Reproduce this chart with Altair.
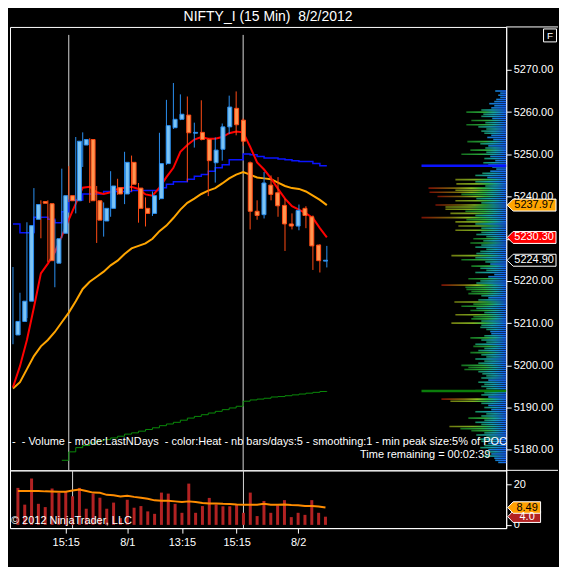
import altair as alt
import pandas as pd

NB = "\u00a0"
TITLE = "NIFTY_I (15 Min)" + NB + " 8/2/2012"
NOTE_1 = "-" + NB + " - Volume - mode:LastNDays" + NB + " - color:Heat - nb bars/days:5 - smoothing:1 - min peak size:5% of POC"
NOTE_2 = "Time remaining = 00:02:39"
COPYRIGHT = "\u00a9 2012 NinjaTrader, LLC"

# ---------------- data ----------------
bar_idx = list(range(46))
opens = [5207.2, 5210.4, 5215.2, 5234.6, 5238.8, 5238.3, 5224.2, 5231.3, 5240.2, 5239.0,
         5252.2, 5253.5, 5239.0, 5234.2, 5237.2, 5242.1, 5240.6, 5248.1, 5242.0, 5237.2,
         5236.0, 5239.5, 5247.8, 5256.3, 5258.3, 5259.3, 5255.0, 5255.2, 5253.5, 5248.0,
         5251.2, 5256.5, 5260.9, 5258.1, 5248.0, 5236.5, 5235.7, 5242.7, 5240.9, 5237.9,
         5233.5, 5233.0, 5237.2, 5235.2, 5228.5, 5224.7]
highs = [5223.3, 5217.2, 5233.9, 5242.0, 5239.1, 5239.1, 5234.5, 5246.6, 5247.2, 5254.1,
         5255.2, 5253.8, 5242.5, 5238.6, 5246.0, 5244.2, 5250.6, 5249.7, 5243.2, 5239.8,
         5241.2, 5255.1, 5262.9, 5266.9, 5264.2, 5263.7, 5257.5, 5262.8, 5253.8, 5254.0,
         5257.3, 5263.9, 5264.9, 5258.5, 5248.3, 5239.1, 5245.8, 5245.0, 5244.6, 5239.5,
         5236.0, 5238.1, 5237.7, 5235.5, 5228.7, 5228.3]
lows = [5205.0, 5207.2, 5211.2, 5231.4, 5230.1, 5224.5, 5218.5, 5230.1, 5238.7, 5236.0,
        5247.0, 5238.5, 5229.0, 5230.5, 5235.2, 5240.4, 5238.2, 5241.2, 5233.8, 5232.9,
        5235.4, 5239.2, 5247.5, 5256.0, 5258.1, 5243.5, 5251.6, 5253.3, 5240.1, 5243.3,
        5248.5, 5254.8, 5254.5, 5252.0, 5232.2, 5234.5, 5234.8, 5239.1, 5235.2, 5227.1,
        5232.2, 5232.0, 5232.5, 5222.6, 5222.0, 5223.2]
closes = [5210.4, 5215.2, 5233.1, 5238.1, 5238.4, 5224.8, 5230.0, 5240.2, 5239.0, 5253.1,
          5253.5, 5239.0, 5234.4, 5237.2, 5242.5, 5240.6, 5248.1, 5242.9, 5237.2, 5236.0,
          5240.2, 5247.8, 5256.8, 5258.3, 5259.5, 5255.1, 5255.2, 5253.5, 5248.5, 5251.0,
          5256.5, 5261.2, 5257.0, 5253.1, 5236.5, 5235.5, 5243.2, 5240.5, 5237.8, 5233.5,
          5233.0, 5236.7, 5235.5, 5228.3, 5224.8, 5224.9]
ema_fast = [5194.8, 5199.8, 5206.0, 5213.7, 5221.8, 5224.1, 5226.8, 5230.6, 5234.5, 5238.3,
            5242.1, 5242.3, 5241.0, 5240.6, 5241.0, 5241.8, 5242.1, 5242.3, 5241.8, 5240.5,
            5240.2, 5242.1, 5244.6, 5246.8, 5250.6, 5252.2, 5253.5, 5254.1, 5253.7, 5253.7,
            5254.1, 5255.0, 5255.4, 5255.2, 5251.8, 5248.1, 5246.4, 5244.3, 5241.8, 5239.5,
            5237.7, 5236.9, 5236.0, 5234.9, 5232.5, 5230.30]
ema_slow = [5194.5, 5196.0, 5199.1, 5202.2, 5204.5, 5206.0, 5207.9, 5210.2, 5212.5, 5215.2,
            5218.1, 5219.8, 5221.0, 5222.2, 5223.7, 5224.8, 5226.4, 5227.7, 5228.3, 5228.9,
            5230.0, 5231.8, 5233.1, 5234.9, 5236.9, 5238.5, 5239.5, 5240.6, 5241.4, 5242.0,
            5243.1, 5244.3, 5245.2, 5245.8, 5245.2, 5244.5, 5244.3, 5244.1, 5243.3, 5242.5,
            5242.0, 5241.8, 5241.2, 5240.2, 5239.2, 5237.97]
blue_line = [5233.5, 5231.4, 5231.4, 5235.1, 5235.1, 5234.6, 5233.8, 5236.4, 5239.1, 5239.2,
             5240.6, 5240.6, 5240.6, 5241.2, 5241.2, 5241.2, 5241.2, 5241.4, 5241.4, 5241.4,
             5241.4, 5242.1, 5242.9, 5243.5, 5243.5, 5244.1, 5244.8, 5245.2, 5246.0, 5246.8,
             5247.5, 5248.7, 5248.7, 5250.1, 5249.9, 5249.5, 5249.1, 5249.1, 5248.9, 5248.7,
             5248.5, 5248.3, 5248.3, 5247.8, 5247.3, 5247.3]
green_line = [None, None, None, None, None, None, None,
              5177.5, 5179.5, 5180.5, 5181.0, 5181.6, 5182.1, 5182.4, 5182.8, 5183.2, 5183.7,
              5184.0, 5184.4, 5184.8, 5185.2, 5185.7, 5186.1, 5186.5, 5187.0, 5187.5, 5187.9,
              5188.3, 5188.7, 5189.1, 5189.5, 5189.9, 5190.3, 5191.5, 5191.8, 5192.0, 5192.2,
              5192.5, 5192.6, 5192.8, 5193.0, 5193.2, 5193.4, 5193.6, 5193.8, 5193.9]
volume = [18.1, 9.9, 22.7, 10.3, 8.7, 17.8, 15.6, 16.1, 14.0, 18.1,
          7.9, 15.3, 13.3, 7.9, 10.9, 3.3, 12.3, 8.4, 9.2, 6.6,
          5.4, 15.8, 15.3, 10.3, 5.9, 20.2, 5.9, 9.2, 13.2, 10.0,
          9.1, 9.1, 10.0, 5.9, 15.8, 4.3, 11.7, 5.9, 9.6, 12.1,
          3.8, 5.9, 4.9, 12.1, 5.9, 4.0]
vol_avg = [16.6, 16.6, 16.6, 16.6, 16.4, 16.3, 16.2, 16.2, 16.8, 17.3,
           16.6, 15.8, 15.7, 14.7, 14.5, 13.9, 14.2, 13.7, 13.3, 12.8,
           12.0, 11.8, 11.8, 11.5, 11.2, 11.5, 11.2, 10.7, 10.5, 10.5,
           10.3, 10.2, 10.0, 9.9, 9.9, 9.9, 10.3, 9.9, 9.9, 10.0,
           9.7, 9.6, 9.2, 9.2, 9.0, 8.49]

tick_idx = [7, 16, 24, 32, 41]
tick_text = ["15:15", "8/1", "13:15", "15:15", "8/2"]
session_breaks = [8, 33]
price_ticks = [5180, 5190, 5200, 5210, 5220, 5230, 5240, 5250, 5260, 5270]
vol_ticks = [0, 20]

# volume profile: one row every 0.5 points, from 5265.0 downwards
profile_top = 5265.0
profile_step = 0.5
profile_vol = [11, 6, 8, 6, 10, 12, 17, 12, 15, 25,
               40, 23, 25, 14, 35, 21, 40, 28, 20, 25,
               22, 15, 19, 13, 39, 26, 18, 21, 36, 20,
               45, 16, 22, 11, 23, 18, 14, 10, 16, 24,
               31, 19, 51, 31, 50, 21, 78, 51, 77, 45,
               69, 30, 51, 25, 71, 61, 61, 41, 56, 31,
               85, 40, 51, 31, 48, 25, 51, 25, 30, 20,
               33, 23, 36, 25, 31, 20, 26, 30, 55, 31,
               45, 21, 16, 35, 26, 20, 31, 12, 18, 38,
               26, 30, 65, 41, 40, 35, 38, 25, 18, 28,
               52, 33, 45, 30, 36, 22, 51, 33, 35, 25,
               55, 25, 26, 20, 16, 15, 22, 36, 25, 20,
               31, 33, 22, 28, 36, 25, 20, 31, 22, 28,
               45, 38, 42, 28, 24, 20, 25, 18, 28, 22,
               25, 20, 31, 22, 25, 18, 65, 56, 25, 18,
               22, 15, 31, 20, 25, 38, 22, 31, 25, 57,
               46, 35, 22, 30, 20, 28, 25, 18, 22, 26,
               18, 20, 15, 23, 12, 11, 8]
marker_vol = 85

# ---------------- layout constants ----------------
W = 498
H_PRICE = 445
H_VOL = 58
X_DOMAIN = [-3 / 7, -3 / 7 + W / 7]
Y_PRICE = [5176.3, 5279.0]
Y_VOL = [-1.6, 26.7]
FONT = "Liberation Sans"

UP_FILL, DN_FILL = "#7cc4f4", "#ff9650"
UP_LINE, DN_LINE = "#2a8ff0", "#ff4a14"

df = pd.DataFrame(dict(i=bar_idx, open=opens, high=highs, low=lows, close=closes,
                       fast=ema_fast, slow=ema_slow, blue=blue_line, green=green_line,
                       vol=volume, avg=vol_avg))
df["dir"] = ["up" if c >= o else "down" for o, c in zip(opens, closes)]

xs = alt.Scale(domain=X_DOMAIN, nice=False, zero=False)
ys = alt.Scale(domain=Y_PRICE, nice=False, zero=False)
vs = alt.Scale(domain=Y_VOL, nice=False, zero=False)

axis_style = dict(title=None, grid=False, tickSize=5, labelPadding=2, labelColor="white",
                  tickColor="white", domainColor="white", labelFontSize=11, labelFont=FONT)
price_axis = alt.Axis(orient="right", values=price_ticks, format=".2f", **axis_style)

X = alt.X("i:Q", scale=xs, axis=None)


def PY(field):
    return alt.Y(field, type="quantitative", scale=ys, axis=price_axis)


base = alt.Chart(df)
one = pd.DataFrame({"k": [0]})

sess = alt.Chart(pd.DataFrame({"i": session_breaks})).mark_rule(
    color="#d8d8d8", strokeWidth=1).encode(x=X, y=alt.value(8), y2=alt.value(H_PRICE))

blue_l = base.mark_line(color="#0a14ff", strokeWidth=1.5, interpolate="step-after").encode(x=X, y=PY("blue"))
green_l = base.mark_line(color="#0a8a0a", strokeWidth=1, interpolate="step-after").encode(x=X, y=PY("green"))
slow_l = base.mark_line(color="#ffa500", strokeWidth=2).encode(x=X, y=PY("slow"))
fast_l = base.mark_line(color="#ff0000", strokeWidth=2).encode(x=X, y=PY("fast"))

dir_stroke = alt.Stroke("dir:N", scale=alt.Scale(domain=["up", "down"], range=[UP_LINE, DN_LINE]), legend=None)
wicks = base.mark_rule(strokeWidth=1).encode(x=X, y=PY("low"), y2="high", stroke=dir_stroke)
bodies = base.mark_bar(size=4, strokeWidth=1).encode(
    x=X, y=PY("open"), y2="close",
    fill=alt.Fill("dir:N", scale=alt.Scale(domain=["up", "down"], range=[UP_FILL, DN_FILL]), legend=None),
    stroke=dir_stroke)

# volume profile
prof_df = pd.DataFrame({"p": [profile_top - profile_step * k for k in range(len(profile_vol))],
                        "v": profile_vol})
px = alt.Scale(domain=[0, W], reverse=True, nice=False, zero=False)


def grad(stops):
    return alt.Gradient(gradient="linear", x1=0, x2=1, y1=0, y2=0,
                        stops=[alt.GradientStop(offset=o, color=c) for o, c in stops])


heat = [
    ("datum.v >= 65", [(0, "#7a1005"), (0.35, "#7a6a0c"), (0.55, "#8fbf22"), (0.7, "#2fb83a"), (0.82, "#17a6a0"), (1, "#1560f5")]),
    ("datum.v >= 48 && datum.v < 65", [(0, "#6f7a10"), (0.4, "#7fae20"), (0.62, "#2fb848"), (0.8, "#17a6a8"), (1, "#1560f5")]),
    ("datum.v >= 33 && datum.v < 48", [(0, "#156f1f"), (0.45, "#2aa83a"), (0.7, "#17a6a0"), (1, "#1560f5")]),
    ("datum.v >= 20 && datum.v < 33", [(0, "#168a5a"), (0.45, "#159fb0"), (1, "#1560f5")]),
    ("datum.v < 20", [(0, "#1582c8"), (1, "#1560f5")]),
]
prof_layers = [
    alt.Chart(prof_df).transform_filter(cond).mark_bar(orient="horizontal", size=1.6, color=grad(stops)).encode(
        x=alt.X("v:Q", scale=px, axis=None), x2=alt.datum(0), y=PY("p"))
    for cond, stops in heat
]
markers = alt.Chart(pd.DataFrame({"p": [blue_line[-1], green_line[-1]], "kind": ["blue", "green"],
                                  "v": [marker_vol, marker_vol]})).mark_bar(orient="horizontal", size=2.5).encode(
    x=alt.X("v:Q", scale=px, axis=None), x2=alt.datum(0), y=PY("p"),
    color=alt.Color("kind:N", scale=alt.Scale(domain=["blue", "green"], range=["#0a14ff", "#0b7d0b"]), legend=None))

# price tags on the axis
TAG = "M -1 0 L -0.755 -0.245 L 1 -0.245 L 1 0.245 L -0.755 0.245 Z"
tag_df = pd.DataFrame({"p": [ema_slow[-1], ema_fast[-1], closes[-1]],
                       "kind": ["slow", "fast", "last"],
                       "label": [f"{v:.2f}" for v in (ema_slow[-1], ema_fast[-1], closes[-1])]})
tag_box = alt.Chart(tag_df).mark_point(shape=TAG, size=2401, filled=True, stroke="white", strokeWidth=1, opacity=1).encode(
    x=alt.value(W + 25.5), y=PY("p"),
    fill=alt.Fill("kind:N", scale=alt.Scale(domain=["slow", "fast", "last"], range=["#ffa500", "#ff0000", "#000000"]), legend=None))
tag_txt = alt.Chart(tag_df).mark_text(fontSize=11, font=FONT, align="center", baseline="middle").encode(
    x=alt.value(W + 28), y=PY("p"), text="label:N",
    color=alt.Color("kind:N", scale=alt.Scale(domain=["slow", "fast", "last"], range=["#000000", "#ffffff", "#ffffff"]), legend=None))

title_txt = alt.Chart(one).mark_text(text=TITLE, fontSize=14, font=FONT, color="white", align="center", baseline="middle").encode(
    x=alt.value(259), y=alt.value(-10))
note1 = alt.Chart(one).mark_text(text=NOTE_1, fontSize=11, font=FONT, color="white", align="left", baseline="middle").encode(
    x=alt.value(2), y=alt.value(417))
note2 = alt.Chart(one).mark_text(text=NOTE_2, fontSize=11, font=FONT, color="white", align="right", baseline="middle").encode(
    x=alt.value(482), y=alt.value(430))
f_box = alt.Chart(one).mark_point(shape="square", size=169, filled=False, color="white", strokeWidth=1, opacity=1).encode(
    x=alt.value(W + 44), y=alt.value(8.5))
f_txt = alt.Chart(one).mark_text(text="F", fontSize=10, font=FONT, color="white", align="center", baseline="middle").encode(
    x=alt.value(W + 44), y=alt.value(9))
top_rule = alt.Chart(one).mark_rule(color="white", strokeWidth=1).encode(x=alt.value(W), x2=alt.value(W + 52), y=alt.value(0))
mid_rule = alt.Chart(one).mark_rule(color="white", strokeWidth=1).encode(x=alt.value(W), x2=alt.value(W + 52), y=alt.value(H_PRICE))

price = alt.layer(
    sess, blue_l, green_l, slow_l, fast_l, wicks, bodies, *prof_layers, markers,
    title_txt, note1, note2, tag_box, tag_txt, f_box, f_txt, top_rule, mid_rule
).resolve_scale(x="independent", fill="independent", stroke="independent", color="independent"
).properties(width=W, height=H_PRICE)

# ---------------- volume panel ----------------
label_expr = "''"
for v, t in reversed(list(zip(tick_idx, tick_text))):
    label_expr = f"datum.value == {v} ? '{t}' : {label_expr}"
x_style = dict(axis_style)
x_style["labelPadding"] = 3
x_axis = alt.Axis(orient="bottom", values=tick_idx, labelExpr=label_expr, **x_style)
vol_axis = alt.Axis(orient="right", values=vol_ticks, **axis_style)

XV = alt.X("i:Q", scale=xs, axis=x_axis)
vsess = alt.Chart(pd.DataFrame({"i": session_breaks})).mark_rule(color="#d8d8d8", strokeWidth=1).encode(x=XV)
vbars = base.mark_bar(size=3, color="#b22222").encode(x=XV, y=alt.Y("vol:Q", scale=vs, axis=vol_axis), y2=alt.datum(0))
vavg = base.mark_line(color="#ff8c00", strokeWidth=2).encode(x=XV, y=alt.Y("avg:Q", scale=vs, axis=vol_axis))
copy_txt = alt.Chart(one).mark_text(text=COPYRIGHT, fontSize=11, font=FONT, color="white", align="left", baseline="middle").encode(
    x=alt.value(1), y=alt.value(51))
# invisible filler so that the black background reaches down to the bottom of the window
filler = alt.Chart(one).mark_point(shape="square", size=1, filled=True, color="black", opacity=1).encode(
    x=alt.value(W + 51), y=alt.value(H_VOL + 37))

VTAG = "M -1 0 L -0.667 -0.35 L 1 -0.35 L 1 0.35 L -0.667 0.35 Z"
vtag_df = pd.DataFrame({"v": [volume[-1], vol_avg[-1]], "kind": ["vol", "avg"],
                        "label": [f"{volume[-1]:.1f}", f"{vol_avg[-1]:.2f}"]})
vtag_box = alt.Chart(vtag_df).mark_point(shape=VTAG, size=1089, filled=True, stroke="white", strokeWidth=1, opacity=1).encode(
    x=alt.value(W + 18), y=alt.Y("v:Q", scale=vs, axis=vol_axis),
    fill=alt.Fill("kind:N", scale=alt.Scale(domain=["vol", "avg"], range=["#b22222", "#ffa000"]), legend=None))
vtag_txt = alt.Chart(vtag_df).mark_text(fontSize=11, font=FONT, align="center", baseline="middle").encode(
    x=alt.value(W + 21), y=alt.Y("v:Q", scale=vs, axis=vol_axis), text="label:N",
    color=alt.Color("kind:N", scale=alt.Scale(domain=["vol", "avg"], range=["#ffffff", "#000000"]), legend=None))

vol = alt.layer(vsess, vbars, vavg, copy_txt, filler, vtag_box, vtag_txt).resolve_scale(
    fill="independent", color="independent").properties(width=W, height=H_VOL)

chart = alt.vconcat(price, vol, spacing=0, bounds="flush").properties(
    padding=0,
).configure(background="black", font=FONT, padding=0).configure_view(stroke="white", strokeWidth=1)

chart.save("out.html", embed_options={"renderer": "svg", "actions": False})
